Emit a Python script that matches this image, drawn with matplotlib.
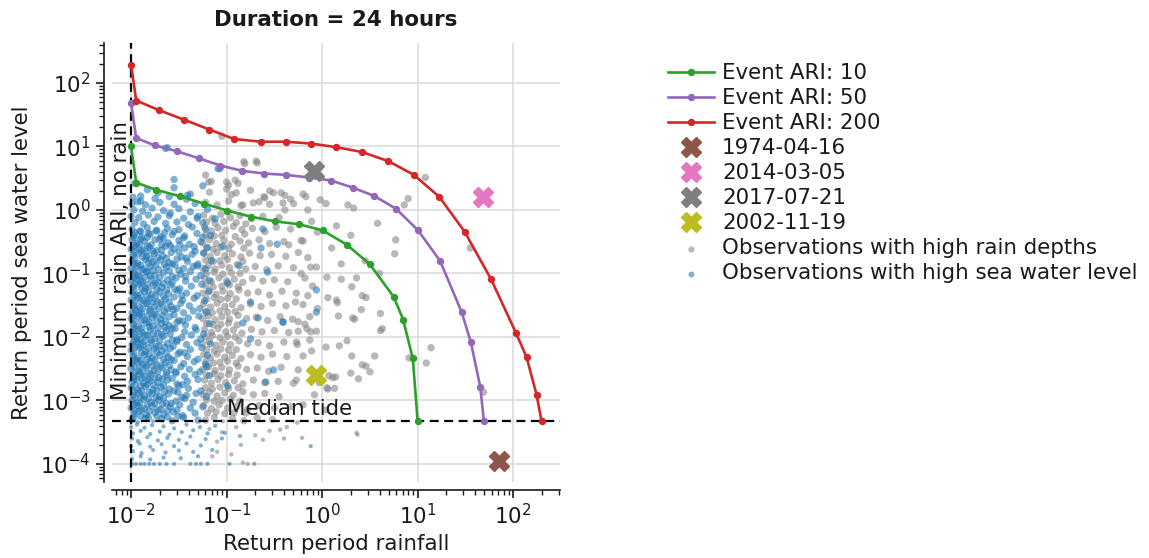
import numpy as np
import matplotlib
matplotlib.use("Agg")
import matplotlib.pyplot as plt

# ---------------- data ----------------
title = "Duration = 24 hours"
xlabel = "Return period rainfall"
ylabel = "Return period sea water level"
x_ticks = [1e-2, 1e-1, 1e0, 1e1, 1e2]
y_ticks = [1e-4, 1e-3, 1e-2, 1e-1, 1e0, 1e1, 1e2]

ari10_x = [0.01, 0.0113, 0.0184, 0.0328, 0.0576, 0.102, 0.179, 0.32, 0.578, 1.01, 1.81, 3.15, 5.64, 7.05, 8.89, 10.0]
ari10_y = [10.0, 2.70, 2.07, 1.64, 1.26, 0.976, 0.785, 0.662, 0.594, 0.478, 0.284, 0.14, 0.0423, 0.0187, 0.00458, 0.000468]

ari50_x = [0.01, 0.0113, 0.0177, 0.030, 0.0508, 0.086, 0.146, 0.247, 0.419, 0.736, 1.24, 2.09, 3.52, 5.96, 10.1, 17.2, 28.9, 36.1, 45.2, 49.4]
ari50_y = [48.3, 13.6, 10.4, 8.44, 6.54, 5.01, 4.13, 3.75, 3.57, 3.24, 2.91, 2.25, 1.66, 1.04, 0.477, 0.157, 0.0245, 0.0082, 0.00163, 0.000468]

ari200_x = [0.01, 0.0113, 0.0194, 0.0359, 0.0659, 0.12, 0.228, 0.419, 0.77, 1.41, 2.64, 4.93, 9.14, 16.9, 31.0, 58.6, 106.7, 138.0, 176.0, 198.0]
ari200_y = [195.0, 53.0, 37.5, 26.4, 18.5, 13.1, 11.9, 11.9, 11.1, 9.76, 8.15, 5.87, 3.57, 1.60, 0.455, 0.0815, 0.01166, 0.0048, 0.00122, 0.000468]

event_labels = ["1974-04-16", "2014-03-05", "2017-07-21", "2002-11-19"]
event_x = [70.6, 48.2, 0.826, 0.871]
event_y = [1.13e-4, 1.62, 4.18, 0.00256]

min_rain_ari = 0.01
median_tide = 4.68e-4

# observations with high rain depths (log10 x, log10 y)
gray_log_pts = [
    (-1.18,0.28),(-1.0,0.33),(-0.9,0.27),(-0.75,0.31),
    (-1.22,0.12),(-1.1,0.08),(-0.98,0.14),(-0.85,0.07),(-0.72,0.11),(-0.55,0.09),
    (-1.24,-0.08),(-1.15,-0.13),(-1.06,-0.07),(-0.96,-0.12),(-0.86,-0.09),(-0.74,-0.14),(-0.62,-0.1),(-0.45,-0.12),
    (-1.23,-0.27),(-1.16,-0.33),(-1.09,-0.28),(-1.01,-0.32),(-0.93,-0.26),(-0.84,-0.31),(-0.73,-0.29),(-0.6,-0.34),(-0.48,-0.27),(-0.33,-0.3),
    (-1.25,-0.52),(-1.18,-0.47),(-1.11,-0.53),(-1.03,-0.48),(-0.95,-0.54),(-0.86,-0.49),(-0.77,-0.52),(-0.66,-0.47),(-0.55,-0.53),(-0.4,-0.5),(-0.22,-0.48),
    (-1.24,-0.68),(-1.17,-0.73),(-1.1,-0.67),(-1.02,-0.72),(-0.94,-0.69),(-0.85,-0.74),(-0.76,-0.68),(-0.65,-0.72),(-0.53,-0.7),(-0.38,-0.73),(-0.25,-0.67),
    (-1.25,-0.92),(-1.19,-0.88),(-1.12,-0.93),(-1.05,-0.87),(-0.97,-0.91),(-0.89,-0.86),(-0.8,-0.93),(-0.7,-0.89),(-0.58,-0.94),(-0.46,-0.88),(-0.3,-0.91),(-0.12,-0.9),
    (-1.23,-1.08),(-1.16,-1.13),(-1.08,-1.07),(-1.0,-1.12),(-0.92,-1.09),(-0.83,-1.14),(-0.73,-1.08),(-0.62,-1.12),(-0.5,-1.1),(-0.36,-1.13),(-0.18,-1.07),
    (-1.25,-1.31),(-1.18,-1.27),(-1.11,-1.33),(-1.04,-1.28),(-0.96,-1.32),(-0.87,-1.26),(-0.78,-1.31),(-0.67,-1.29),(-0.55,-1.34),(-0.42,-1.28),(-0.27,-1.31),
    (-1.24,-1.48),(-1.17,-1.53),(-1.1,-1.47),(-1.02,-1.52),(-0.94,-1.49),(-0.85,-1.54),(-0.75,-1.48),(-0.64,-1.52),(-0.52,-1.47),(-0.38,-1.51),(-0.2,-1.49),
    (-1.25,-1.71),(-1.19,-1.67),(-1.12,-1.73),(-1.05,-1.68),(-0.97,-1.72),(-0.88,-1.66),(-0.79,-1.71),(-0.69,-1.69),(-0.57,-1.74),(-0.44,-1.68),(-0.31,-1.72),
    (-1.23,-1.88),(-1.16,-1.93),(-1.09,-1.87),(-1.01,-1.92),(-0.93,-1.89),(-0.84,-1.94),(-0.74,-1.88),(-0.63,-1.92),(-0.5,-1.9),(-0.35,-1.93),(-0.16,-1.87),
    (-1.25,-2.11),(-1.18,-2.07),(-1.11,-2.13),(-1.04,-2.08),(-0.96,-2.12),(-0.87,-2.06),(-0.78,-2.11),(-0.67,-2.09),(-0.55,-2.14),(-0.4,-2.08),(-0.26,-2.12),
    (-1.24,-2.28),(-1.17,-2.33),(-1.1,-2.27),(-1.02,-2.32),(-0.94,-2.29),(-0.85,-2.34),(-0.75,-2.28),(-0.64,-2.32),(-0.52,-2.27),(-0.37,-2.31),
    (-1.25,-2.51),(-1.19,-2.47),(-1.12,-2.53),(-1.05,-2.48),(-0.97,-2.52),(-0.88,-2.46),(-0.79,-2.51),(-0.68,-2.49),(-0.56,-2.54),(-0.43,-2.48),(-0.25,-2.52),
    (-1.23,-2.68),(-1.16,-2.73),(-1.09,-2.67),(-1.01,-2.72),(-0.92,-2.69),(-0.83,-2.74),(-0.72,-2.68),(-0.6,-2.72),(-0.46,-2.7),(-0.3,-2.73),
    (-1.25,-2.91),(-1.18,-2.87),(-1.1,-2.93),(-1.02,-2.88),(-0.93,-2.92),(-0.83,-2.86),(-0.72,-2.91),(-0.6,-2.89),(-0.45,-2.94),
    (-1.24,-3.08),(-1.16,-3.13),(-1.08,-3.07),(-0.99,-3.12),(-0.89,-3.09),(-0.78,-3.14),(-0.66,-3.08),(-0.5,-3.12),(-0.33,-3.1),
    (-1.22,-3.31),(-1.13,-3.27),(-1.04,-3.33),(-0.94,-3.28),(-0.82,-3.32),(-0.68,-3.27),(-0.52,-3.3),
    (-1.21,-0.19),(-1.12,-0.21),(-1.03,-0.18),(-0.9,-0.2),(-0.8,-0.22),
    (-1.22,-0.39),(-1.13,-0.41),(-1.05,-0.4),(-0.91,-0.42),(-0.81,-0.38),
    (-1.21,-0.6),(-1.14,-0.62),(-1.06,-0.59),(-0.98,-0.61),(-0.82,-0.6),
    (-1.22,-0.79),(-1.14,-0.81),(-1.07,-0.8),(-0.99,-0.78),(-0.83,-0.81),
    (-1.21,-1.0),(-1.13,-0.98),(-1.04,-1.01),(-0.95,-0.99),(-0.86,-1.0),
    (-1.22,-1.19),(-1.14,-1.21),(-1.05,-1.2),(-0.97,-1.18),(-0.88,-1.21),
    (-1.21,-1.4),(-1.13,-1.38),(-1.06,-1.41),(-0.99,-1.39),(-0.9,-1.4),
    (-1.22,-1.6),(-1.15,-1.62),(-1.07,-1.59),(-0.99,-1.61),(-0.91,-1.6),
    (-1.21,-1.79),(-1.14,-1.81),(-1.06,-1.8),(-0.98,-1.78),(-0.89,-1.81),
    (-1.22,-2.0),(-1.15,-1.98),(-1.07,-2.01),(-0.99,-1.99),(-0.91,-2.0),
    (-1.21,-2.2),(-1.13,-2.22),(-1.06,-2.19),(-0.98,-2.21),(-0.9,-2.2),
    (-1.22,-2.39),(-1.14,-2.41),(-1.07,-2.4),(-0.99,-2.38),(-0.9,-2.41),
    (-1.21,-2.6),(-1.13,-2.58),(-1.06,-2.61),(-0.98,-2.59),(-0.89,-2.6),
    (-1.22,-2.8),(-1.15,-2.82),(-1.07,-2.79),(-0.98,-2.81),(-0.88,-2.8),
    (-1.21,-2.99),(-1.13,-3.01),(-1.05,-3.0),(-0.96,-2.98),(-0.86,-3.01),
    (-1.2,-3.2),(-1.11,-3.18),(-1.02,-3.21),(-0.92,-3.19),(-0.8,-3.2),
    (-1.18,-3.45),(-1.05,-3.5),(-0.9,-3.42),(-0.7,-3.55),(-0.55,-3.48),(-1.1,-3.65),(-0.85,-3.7),(-0.62,-3.62),
    (-0.95,-3.85),(-0.78,-4.0),(-0.4,-3.6),(0.37,-3.54),(-0.21,-3.59),(-0.83,-3.98),(-0.37,-3.42),(-0.26,-3.35),
    (-0.44,-3.46),(0.36,-3.51),(-1.1,-3.81),(-1.15,-3.88),(-0.2,-3.07),(0.04,-3.15),(0.06,-2.82),
    (-1.05,1.16),(-0.82,0.76),(-0.69,0.77),(-1.22,0.55),(-1.19,0.44),(-1.0,0.44),(-0.91,0.47),(-0.55,0.3),
    (-0.43,0.27),(-0.2,0.25),(-0.61,0.21),(-0.33,0.17),(-0.02,0.16),(0.27,0.08),(-0.66,0.13),(-0.41,0.11),
    (0.9,0.18),(-0.15,0.0),(-0.68,0.74),(-0.81,0.73),(-0.51,0.27),(-0.39,0.23),(-0.17,0.21),(-0.3,0.1),
    (-0.39,0.0),(-0.6,0.19),(-0.83,0.08),(-0.95,0.24),(-1.16,0.45),(-0.98,0.39),(-0.88,0.42),(1.08,0.51),
    (0.86,0.08),(0.58,-0.21),(0.77,-0.47),(0.76,-0.69),(0.33,0.03),(0.04,0.1),(-0.11,-0.18),(-0.2,-0.49),
    (1.55,-0.6),(0.16,-1.46),(0.06,-1.38),(0.46,-1.38),(0.61,-1.63),(0.61,-1.9),(0.34,-1.72),(0.26,-2.06),
    (0.31,-2.3),(0.55,-2.3),(1.14,-2.17),(1.09,-2.41),(0.91,-2.33),(0.38,-2.66),(0.46,-2.46),(0.11,-2.64),
    (1.69,-2.87),(-0.08,-2.91),(0.13,-2.81),(-0.06,-0.9),(0.05,-1.06),(0.2,-1.09),(0.36,-1.07),(0.31,-1.21),
    (0.15,-1.42),(0.42,-1.35),(0.41,-1.57),(0.32,-1.7),(0.17,-1.67),(0.63,-1.87),(0.18,-2.14),(0.42,-2.44),
    (0.5,-2.55),(0.3,-2.57),(0.04,-2.16),(0.07,-2.61),(0.14,-2.63),(0.05,-2.8),(-0.03,-2.72),(-0.27,-2.68),
    (-0.2,-2.3),(-0.11,-2.22),(-0.06,-1.91),(-0.12,-1.92),(-0.18,-1.8),(-0.25,-1.91),(-0.25,-1.76),(-0.13,-2.05),
    (-0.27,-2.08),(-0.05,-0.35),(0.1,-0.6),(-0.15,-0.75),(0.2,-0.85),(-0.35,-0.55),(0.3,-0.4),(0.45,-0.8),
    (0.6,-1.0),(0.15,-0.25),(-0.22,-1.0),(-0.1,-1.2),(-0.28,-1.45),(-0.15,-1.35),(-0.05,-1.55),(-0.13,-1.68),
]

# observations with high sea water level (log10 x, log10 y)
blue_log_pts = [
    (-1.09,0.65),(-1.64,0.97),(-1.62,0.98),(-1.55,0.48),(-1.41,0.23),(-1.93,0.13),(-1.9,0.14),(-1.59,-0.05),
    (-1.83,0.32),(-1.72,0.27),(-1.55,0.35),(-1.38,0.25),(-1.96,0.42),(-1.25,0.38),(-1.07,0.65),
    (-1.98,0.2),(-1.9,0.22),(-1.75,0.18),(-1.6,0.21),(-1.42,0.17),
    (-1.99,0.1),(-1.85,0.08),(-1.7,0.12),(-1.55,0.09),(-1.33,0.1),
    (-1.97,0.0),(-1.88,-0.02),(-1.78,0.03),(-1.66,-0.01),(-1.5,0.02),(-1.38,-0.03),(-1.2,0.01),
    (-2.0,-0.1),(-1.92,-0.12),(-1.82,-0.08),(-1.72,-0.11),(-1.6,-0.09),(-1.45,-0.13),(-1.3,-0.1),
    (-1.96,-0.2),(-1.87,-0.22),(-1.76,-0.18),(-1.64,-0.21),(-1.52,-0.19),(-1.4,-0.23),(-1.25,-0.2),
    (-1.99,-0.3),(-1.91,-0.33),(-1.83,-0.28),(-1.73,-0.32),(-1.62,-0.29),(-1.5,-0.31),(-1.36,-0.27),(-1.22,-0.3),
    (-1.97,-0.4),(-1.89,-0.43),(-1.8,-0.38),(-1.69,-0.42),(-1.57,-0.39),(-1.44,-0.41),(-1.31,-0.37),(-1.17,-0.4),
    (-1.99,-0.47),(-1.94,-0.53),(-1.86,-0.49),(-1.79,-0.55),(-1.7,-0.46),(-1.61,-0.52),(-1.5,-0.48),(-1.39,-0.54),(-1.27,-0.5),
    (-2.0,-0.62),(-1.95,-0.58),(-1.88,-0.63),(-1.81,-0.59),(-1.73,-0.64),(-1.64,-0.57),(-1.55,-0.61),(-1.44,-0.6),(-1.33,-0.65),(-1.2,-0.59),
    (-1.98,-0.71),(-1.92,-0.68),(-1.84,-0.73),(-1.76,-0.69),(-1.67,-0.72),(-1.58,-0.67),(-1.47,-0.74),(-1.36,-0.7),(-1.24,-0.68),
    (-1.99,-0.8),(-1.93,-0.84),(-1.85,-0.78),(-1.77,-0.82),(-1.69,-0.79),(-1.6,-0.83),(-1.52,-0.77),(-1.41,-0.81),(-1.3,-0.85),(-1.16,-0.8),
    (-2.0,-0.92),(-1.94,-0.88),(-1.87,-0.93),(-1.8,-0.89),(-1.71,-0.94),(-1.63,-0.9),(-1.54,-0.87),(-1.45,-0.92),(-1.35,-0.89),(-1.22,-0.93),
    (-1.97,-1.0),(-1.91,-1.04),(-1.83,-0.98),(-1.75,-1.03),(-1.66,-0.99),(-1.57,-1.05),(-1.48,-1.01),(-1.38,-0.97),(-1.27,-1.03),
    (-2.0,-1.12),(-1.95,-1.08),(-1.88,-1.13),(-1.79,-1.09),(-1.72,-1.14),(-1.62,-1.1),(-1.53,-1.07),(-1.43,-1.12),(-1.32,-1.09),(-1.18,-1.11),
    (-1.98,-1.21),(-1.92,-1.17),(-1.85,-1.23),(-1.77,-1.19),(-1.68,-1.22),(-1.59,-1.18),(-1.49,-1.24),(-1.37,-1.2),(-1.26,-1.17),
    (-1.99,-1.3),(-1.94,-1.34),(-1.86,-1.28),(-1.78,-1.33),(-1.7,-1.29),(-1.61,-1.32),(-1.51,-1.27),(-1.42,-1.31),(-1.31,-1.35),(-1.19,-1.29),
    (-2.0,-1.42),(-1.93,-1.38),(-1.87,-1.43),(-1.8,-1.39),(-1.73,-1.44),(-1.64,-1.4),(-1.55,-1.37),(-1.46,-1.42),(-1.34,-1.39),(-1.23,-1.43),
    (-1.97,-1.5),(-1.91,-1.54),(-1.83,-1.48),(-1.76,-1.53),(-1.67,-1.49),(-1.58,-1.52),(-1.48,-1.47),(-1.39,-1.51),(-1.28,-1.55),
    (-1.99,-1.62),(-1.95,-1.58),(-1.89,-1.63),(-1.81,-1.59),(-1.74,-1.64),(-1.65,-1.6),(-1.56,-1.57),(-1.45,-1.62),(-1.35,-1.59),(-1.21,-1.61),
    (-2.0,-1.71),(-1.93,-1.67),(-1.86,-1.73),(-1.78,-1.69),(-1.69,-1.72),(-1.6,-1.68),(-1.5,-1.74),(-1.4,-1.7),(-1.29,-1.67),
    (-1.98,-1.8),(-1.92,-1.84),(-1.84,-1.78),(-1.77,-1.83),(-1.68,-1.79),(-1.6,-1.82),(-1.52,-1.77),(-1.43,-1.81),(-1.33,-1.85),(-1.18,-1.79),
    (-2.0,-1.92),(-1.95,-1.88),(-1.88,-1.93),(-1.8,-1.89),(-1.72,-1.94),(-1.63,-1.9),(-1.54,-1.87),(-1.44,-1.92),(-1.32,-1.89),(-1.24,-1.95),
    (-1.97,-2.0),(-1.9,-2.04),(-1.83,-1.98),(-1.75,-2.03),(-1.66,-1.99),(-1.57,-2.05),(-1.47,-2.01),(-1.37,-1.97),(-1.27,-2.03),
    (-1.99,-2.12),(-1.94,-2.08),(-1.87,-2.13),(-1.79,-2.09),(-1.71,-2.14),(-1.62,-2.1),(-1.52,-2.07),(-1.42,-2.12),(-1.31,-2.09),(-1.17,-2.11),
    (-2.0,-2.21),(-1.92,-2.17),(-1.85,-2.23),(-1.76,-2.19),(-1.68,-2.22),(-1.59,-2.18),(-1.49,-2.24),(-1.38,-2.2),(-1.26,-2.17),
    (-1.98,-2.3),(-1.93,-2.34),(-1.86,-2.28),(-1.78,-2.33),(-1.7,-2.29),(-1.61,-2.32),(-1.51,-2.27),(-1.41,-2.31),(-1.3,-2.35),(-1.2,-2.29),
    (-1.99,-2.42),(-1.94,-2.38),(-1.88,-2.43),(-1.8,-2.39),(-1.73,-2.44),(-1.64,-2.4),(-1.55,-2.37),(-1.45,-2.42),(-1.34,-2.39),(-1.22,-2.43),
    (-2.0,-2.5),(-1.92,-2.54),(-1.84,-2.48),(-1.76,-2.53),(-1.67,-2.49),(-1.58,-2.52),(-1.48,-2.47),(-1.39,-2.51),(-1.28,-2.55),
    (-1.97,-2.62),(-1.91,-2.58),(-1.86,-2.63),(-1.79,-2.59),(-1.71,-2.64),(-1.63,-2.6),(-1.53,-2.57),(-1.44,-2.62),(-1.33,-2.59),(-1.18,-2.61),
    (-1.99,-2.71),(-1.94,-2.67),(-1.87,-2.73),(-1.8,-2.69),(-1.72,-2.72),(-1.62,-2.68),(-1.52,-2.74),(-1.41,-2.7),(-1.3,-2.67),
    (-2.0,-2.8),(-1.93,-2.84),(-1.85,-2.78),(-1.77,-2.83),(-1.69,-2.79),(-1.6,-2.82),(-1.5,-2.77),(-1.4,-2.81),(-1.27,-2.85),
    (-1.98,-2.92),(-1.92,-2.88),(-1.86,-2.93),(-1.78,-2.89),(-1.7,-2.94),(-1.61,-2.9),(-1.51,-2.87),(-1.42,-2.92),(-1.32,-2.89),(-1.21,-2.94),
    (-1.99,-3.0),(-1.94,-3.04),(-1.87,-2.98),(-1.79,-3.03),(-1.71,-2.99),(-1.63,-3.05),(-1.53,-3.01),(-1.44,-2.97),(-1.35,-3.03),
    (-2.0,-3.12),(-1.93,-3.08),(-1.86,-3.13),(-1.78,-3.09),(-1.69,-3.14),(-1.59,-3.1),(-1.49,-3.07),(-1.38,-3.12),(-1.25,-3.1),
    (-1.97,-3.21),(-1.92,-3.17),(-1.84,-3.23),(-1.75,-3.19),(-1.66,-3.22),(-1.56,-3.18),(-1.46,-3.24),(-1.33,-3.2),
    (-1.99,-3.3),(-1.93,-3.34),(-1.85,-3.28),(-1.77,-3.33),(-1.68,-3.29),(-1.57,-3.32),(-1.45,-3.27),(-1.3,-3.31),
    (-1.96,-0.36),(-1.9,-0.34),(-1.82,-0.37),(-1.74,-0.33),(-1.65,-0.36),(-1.55,-0.34),
    (-1.97,-0.44),(-1.9,-0.46),(-1.83,-0.43),(-1.75,-0.47),(-1.66,-0.45),(-1.45,-0.44),
    (-1.96,-0.56),(-1.91,-0.54),(-1.83,-0.57),(-1.68,-0.55),(-1.59,-0.56),(-1.49,-0.55),
    (-1.97,-0.66),(-1.9,-0.64),(-1.84,-0.67),(-1.77,-0.65),(-1.68,-0.63),(-1.5,-0.66),
    (-1.96,-0.76),(-1.88,-0.74),(-1.8,-0.77),(-1.72,-0.75),(-1.63,-0.76),(-1.42,-0.76),
    (-1.97,-0.85),(-1.9,-0.87),(-1.82,-0.84),(-1.74,-0.86),(-1.65,-0.86),(-1.57,-0.85),
    (-1.96,-0.96),(-1.89,-0.94),(-1.84,-0.97),(-1.77,-0.95),(-1.6,-0.96),(-1.5,-0.95),
    (-1.97,-1.06),(-1.93,-1.04),(-1.86,-1.06),(-1.8,-1.04),(-1.7,-1.06),(-1.43,-1.05),
    (-1.96,-1.16),(-1.9,-1.14),(-1.83,-1.17),(-1.75,-1.15),(-1.66,-1.16),(-1.57,-1.15),
    (-1.97,-1.26),(-1.89,-1.24),(-1.82,-1.27),(-1.73,-1.25),(-1.63,-1.26),(-1.54,-1.25),
    (-1.96,-1.36),(-1.9,-1.34),(-1.83,-1.37),(-1.74,-1.35),(-1.66,-1.36),(-1.47,-1.35),
    (-1.97,-1.46),(-1.9,-1.44),(-1.84,-1.47),(-1.77,-1.45),(-1.69,-1.46),(-1.6,-1.45),
    (-1.96,-1.56),(-1.88,-1.55),(-1.8,-1.57),(-1.71,-1.55),(-1.62,-1.56),(-1.52,-1.55),
    (-1.97,-1.66),(-1.91,-1.64),(-1.83,-1.67),(-1.76,-1.65),(-1.67,-1.66),(-1.55,-1.65),
    (-1.96,-1.76),(-1.89,-1.74),(-1.81,-1.77),(-1.73,-1.75),(-1.64,-1.76),(-1.46,-1.75),
    (-1.97,-1.86),(-1.89,-1.86),(-1.81,-1.84),(-1.72,-1.86),(-1.65,-1.85),(-1.57,-1.86),
    (-1.96,-1.96),(-1.91,-1.95),(-1.85,-1.97),(-1.77,-1.95),(-1.68,-1.96),(-1.59,-1.95),
    (-1.97,-2.06),(-1.93,-2.05),(-1.86,-2.07),(-1.79,-2.05),(-1.7,-2.06),(-1.52,-2.05),
    (-1.96,-2.16),(-1.9,-2.15),(-1.82,-2.17),(-1.74,-2.15),(-1.65,-2.16),(-1.56,-2.15),
    (-1.97,-2.26),(-1.89,-2.25),(-1.81,-2.27),(-1.73,-2.25),(-1.63,-2.26),(-1.44,-2.25),
    (-1.96,-2.36),(-1.9,-2.37),(-1.83,-2.35),(-1.75,-2.36),(-1.66,-2.36),(-1.58,-2.35),
    (-1.97,-2.46),(-1.91,-2.47),(-1.84,-2.45),(-1.77,-2.46),(-1.69,-2.46),(-1.6,-2.45),
    (-1.96,-2.56),(-1.88,-2.55),(-1.81,-2.57),(-1.72,-2.55),(-1.63,-2.56),(-1.53,-2.55),
    (-1.97,-2.66),(-1.89,-2.65),(-1.82,-2.67),(-1.75,-2.65),(-1.67,-2.66),(-1.57,-2.65),
    (-1.96,-2.76),(-1.9,-2.77),(-1.83,-2.75),(-1.76,-2.76),(-1.66,-2.76),(-1.46,-2.75),
    (-1.97,-2.86),(-1.89,-2.85),(-1.81,-2.87),(-1.73,-2.85),(-1.65,-2.86),(-1.55,-2.85),
    (-1.96,-2.96),(-1.9,-2.95),(-1.82,-2.97),(-1.74,-2.95),(-1.66,-2.96),(-1.47,-2.95),
    (-1.97,-3.06),(-1.91,-3.05),(-1.83,-3.07),(-1.75,-3.05),(-1.67,-3.06),(-1.58,-3.05),
    (-1.96,-3.16),(-1.89,-3.15),(-1.81,-3.17),(-1.72,-3.15),(-1.62,-3.16),(-1.52,-3.15),
    (-1.97,-3.26),(-1.9,-3.25),(-1.82,-3.27),(-1.73,-3.25),(-1.62,-3.26),(-1.51,-3.25),
    (-2.0,-3.42),(-1.94,-3.38),(-1.86,-3.43),(-1.78,-3.39),(-1.66,-3.41),(-1.55,-3.44),(-1.42,-3.38),(-1.28,-3.42),(-1.12,-3.4),
    (-1.98,-3.52),(-1.9,-3.48),(-1.8,-3.53),(-1.7,-3.49),(-1.6,-3.54),(-1.47,-3.5),(-1.35,-3.47),(-1.2,-3.52),
    (-1.99,-3.6),(-1.93,-3.64),(-1.83,-3.58),(-1.72,-3.63),(-1.62,-3.59),(-1.5,-3.62),(-1.38,-3.57),(-1.22,-3.61),(-1.05,-3.6),
    (-2.0,-3.72),(-1.91,-3.68),(-1.8,-3.73),(-1.68,-3.69),(-1.55,-3.72),(-1.42,-3.68),(-1.27,-3.71),
    (-1.98,-3.8),(-1.89,-3.83),(-1.77,-3.78),(-1.64,-3.82),(-1.5,-3.79),(-1.35,-3.81),(-1.15,-3.78),
    (-1.99,-3.92),(-1.9,-3.88),(-1.8,-3.93),(-1.66,-3.9),(-1.48,-3.91),(-1.3,-3.88),
    (-1.99,-4.0),(-1.95,-4.0),(-1.9,-4.0),(-1.86,-4.0),(-1.81,-4.0),(-1.76,-4.0),(-1.7,-4.0),(-1.63,-4.0),
    (-1.55,-4.0),(-1.38,-4.0),(-1.32,-4.0),(-1.27,-4.0),(-1.2,-4.0),(-0.97,-4.0),(-0.71,-4.0),
    (-1.31,-0.88),(-0.87,-0.88),(-0.57,-0.98),(-0.99,-1.15),(-0.75,-1.45),(-0.67,-1.7),(-0.41,-1.76),(-0.06,-1.26),
    (-0.06,-1.61),(-0.83,-1.78),(-0.75,-2.03),(-0.51,-2.52),(-0.59,-2.71),(-0.99,-2.77),(-1.21,-2.47),
    (-1.31,-0.13),(-1.12,-0.14),(-1.25,-0.43),(-1.04,-0.57),(-0.64,-0.6),(-0.47,-0.54),(-0.62,-0.3),(-1.34,-0.58),
    (-0.12,-3.72),(-0.86,-3.56),(-1.02,-3.51),(-0.41,-1.77),
]

legend_line_labels = ["Event ARI: 10", "Event ARI: 50", "Event ARI: 200"]
gray_label = "Observations with high rain depths"
blue_label = "Observations with high sea water level"

# ---------------- figure ----------------
TXT = "#1a1a1a"
FS = 15.4
plt.rcParams.update({
    "font.family": "DejaVu Sans",
    "font.size": FS,
    "text.color": TXT,
    "axes.labelcolor": TXT,
    "xtick.color": TXT,
    "ytick.color": TXT,
})

fig = plt.figure(figsize=(11.49, 5.58), dpi=100)
ax = fig.add_axes([112 / 1149, 1 - 482 / 558, 448 / 1149, 439 / 558])

gp = np.array(gray_log_pts)
bp = np.array(blue_log_pts)
gx, gy = 10 ** gp[:, 0], 10 ** gp[:, 1]
bx, by = 10 ** bp[:, 0], 10 ** bp[:, 1]
g_size = np.where(gy > median_tide, 28, 10)
b_size = np.where(by > median_tide, 28, 9)

sc_gray = ax.scatter(gx, gy, s=g_size, color="tab:gray", alpha=0.55, linewidths=0, zorder=2, label=gray_label)
sc_blue = ax.scatter(bx, by, s=b_size, color="tab:blue", alpha=0.58, linewidths=0, zorder=2.2, label=blue_label)

ax.axvline(min_rain_ari, color="k", ls=(0, (4, 2.5)), lw=1.6, zorder=3)
ax.axhline(median_tide, color="k", ls=(0, (4, 2.5)), lw=1.6, zorder=3)

lines = []
for xs, ys, c, lab in [(ari10_x, ari10_y, "tab:green", legend_line_labels[0]),
                       (ari50_x, ari50_y, "tab:purple", legend_line_labels[1]),
                       (ari200_x, ari200_y, "tab:red", legend_line_labels[2])]:
    ln, = ax.plot(xs, ys, color=c, lw=1.9, marker="o", ms=4.3, zorder=4, label=lab)
    lines.append(ln)

ev_colors = ["tab:brown", "tab:pink", "tab:gray", "tab:olive"]
ev_handles = []
for xv, yv, c, lab in zip(event_x, event_y, ev_colors, event_labels):
    h, = ax.plot([xv], [yv], ls="none", marker="X", ms=15, color=c, zorder=5, label=lab)
    ev_handles.append(h)

ax.text(min_rain_ari, 1.0e-3, "Minimum rain ARI, no rain", rotation=90,
        ha="right", va="bottom", fontsize=FS, zorder=6)
ax.text(0.1, median_tide * 1.08, "Median tide", ha="left", va="bottom", fontsize=FS, zorder=6)

ax.set_xscale("log")
ax.set_yscale("log")
ax.set_xticks(x_ticks)
ax.set_yticks(y_ticks)
ax.set_xlim(10 ** -2.2, 10 ** 2.49)
ax.set_ylim(10 ** -4.285, 10 ** 2.63)

ax.grid(True, which="major", color="#dcdcdc", lw=1.2, zorder=0)
ax.set_axisbelow(True)
for s in ["top", "right"]:
    ax.spines[s].set_visible(False)
for s in ["left", "bottom"]:
    ax.spines[s].set_position(("outward", 5.8))
    ax.spines[s].set_linewidth(1.2)
    ax.spines[s].set_color(TXT)
ax.tick_params(which="major", length=6, width=1.2, labelsize=FS)
ax.tick_params(which="minor", length=3.5, width=1.0)

ax.set_xlabel(xlabel, fontsize=FS, labelpad=4)
ax.set_ylabel(ylabel, fontsize=FS, labelpad=6)
ax.set_title(title, fontsize=FS, fontweight="bold", pad=12)

handles = lines + ev_handles + [sc_gray, sc_blue]
labels = [h.get_label() for h in handles]
fig.legend(handles, labels, loc="upper left", bbox_to_anchor=(668 / 1149, 1 - 63 / 558),
           frameon=False, fontsize=FS, borderpad=0, borderaxespad=0,
           handlelength=2.15, handletextpad=0.37, labelspacing=0.235, markerscale=1.0)

fig.savefig("out.png", dpi=100)
